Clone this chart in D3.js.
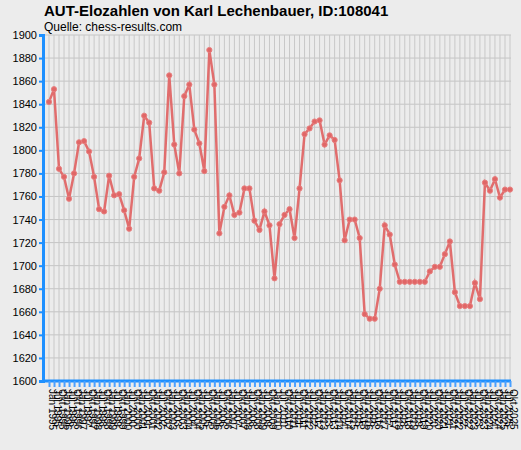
<!DOCTYPE html>
<html><head><meta charset="utf-8">
<script src="https://cdn.jsdelivr.net/npm/d3@7"></script>
<style>body{margin:0;background:#ececec;}svg{display:block;font-family:Arial,"Liberation Sans",sans-serif;}</style>
</head><body><svg id="c" width="521" height="450"></svg>
<script>
const title = "AUT-Elozahlen von Karl Lechenbauer, ID:108041";
const source = "Quelle: chess-results.com";
const elo = [1842,1853,1784,1777,1758,1780,1807,1808,1799,1777,1749,1747,1778,1761,1762,1748,1732,1777,1793,1830,1824,1767,1765,1781,1865,1805,1780,1847,1857,1818,1806,1782,1887,1857,1728,1751,1761,1744,1746,1767,1767,1739,1731,1747,1735,1689,1736,1744,1749,1724,1767,1814,1819,1825,1826,1805,1813,1809,1774,1722,1740,1740,1724,1658,1654,1654,1680,1735,1727,1701,1686,1686,1686,1686,1686,1686,1695,1699,1699,1710,1721,1677,1665,1665,1665,1685,1671,1772,1765,1775,1759,1766,1766];
const years = [1995,1996,1997,1998,1999,2000,2001,2002,2003,2004,2005,2006,2007,2008,2009,2010,2011,2012,2013,2014,2015,2016,2017,2018,2019,2020,2021,2022,2023,2024,2025];
const months = ["Jan","Jul","Okt"];
const yTicks = [1600,1620,1640,1660,1680,1700,1720,1740,1760,1780,1800,1820,1840,1860,1880,1900];
const labels = [];
for (const yr of years) for (const m of months) labels.push(m + " " + yr);
const xLabels = labels.slice(labels.length - elo.length);

const svg = d3.select("#c");
const L = 43, R = 511, T = 35, B = 381;
const x = d3.scalePoint().domain(d3.range(elo.length)).range([L + 6, R - 1]);
const y = d3.scaleLinear().domain([1600, 1900]).range([B, T]);

svg.append("text").attr("x", 44).attr("y", 16).attr("font-size", 15).attr("font-weight", "bold").text(title);
svg.append("text").attr("x", 44).attr("y", 31).attr("font-size", 12).text(source);

svg.append("g").selectAll("line").data(yTicks).join("line")
  .attr("x1", L).attr("x2", R).attr("y1", d => y(d)).attr("y2", d => y(d)).attr("stroke", "#c4c4c4");
svg.append("g").selectAll("line").data(d3.range(elo.length)).join("line")
  .attr("x1", d => x(d)).attr("x2", d => x(d)).attr("y1", T).attr("y2", B).attr("stroke", "#c8c8c8");

const ya = svg.append("g").attr("transform", `translate(${L},0)`)
  .call(d3.axisLeft(y).tickValues(yTicks).tickSize(4).tickPadding(2).tickFormat(d3.format("d")));
ya.select(".domain").attr("stroke", "#1e90ff").attr("stroke-width", 3);
ya.selectAll(".tick line").attr("stroke", "#1e90ff").attr("stroke-width", 2);
ya.selectAll("text").attr("font-size", 11).attr("fill", "#000").attr("font-family", "Arial,'Liberation Sans',sans-serif");

const xa = svg.append("g").attr("transform", `translate(0,${B})`)
  .call(d3.axisBottom(x).tickSize(6).tickFormat(i => xLabels[i]));
xa.select(".domain").attr("d", `M${L},0H${R}`).attr("stroke", "#1e90ff").attr("stroke-width", 3);
xa.selectAll(".tick line").attr("stroke", "#4aa0ff").attr("stroke-width", 2);
xa.selectAll("text").attr("font-size", 10).attr("fill", "#000").attr("font-family", "Arial,'Liberation Sans',sans-serif")
  .attr("transform", "rotate(90)").attr("text-anchor", "start").attr("x", 8).attr("y", -3).attr("dy", "0.35em");

svg.append("path").datum(elo).attr("fill", "none").attr("stroke", "#e06666").attr("stroke-width", 2.5).attr("stroke-opacity", 0.95)
  .attr("d", d3.line().x((d, i) => x(i)).y(d => y(d)));
svg.append("g").selectAll("circle").data(elo).join("circle")
  .attr("cx", (d, i) => x(i)).attr("cy", d => y(d)).attr("r", 2.6).attr("fill", "#e06666").attr("stroke", "#e88080");
</script></body></html>
